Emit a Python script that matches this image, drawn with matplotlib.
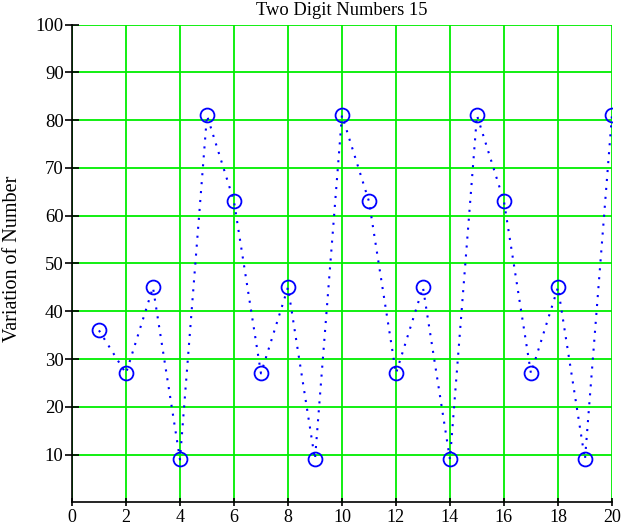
import numpy as np
import matplotlib.pyplot as plt

plt.rcParams['font.family'] = ['Liberation Serif', 'DejaVu Serif']

x = np.arange(1, 21)
values = [36, 27, 45, 9, 81, 63, 27, 45, 9, 81,
          63, 27, 45, 9, 81, 63, 27, 45, 9, 81]
xticks = np.arange(0, 21, 2)
yticks = np.arange(10, 101, 10)

fig = plt.figure(figsize=(6.27, 5.25), dpi=100)
ax = fig.add_axes([0.1148, 0.0429, 0.8612, 0.9104])

ax.plot(x, values, color='blue', linestyle=(0, (1, 3.3)), linewidth=1.5,
        marker='o', markersize=10, markerfacecolor='none',
        markeredgecolor='blue', markeredgewidth=1.3)

ax.set_xlim(0, 20)
ax.set_ylim(0, 100)
ax.set_xticks(xticks)
ax.set_yticks(yticks)
ax.grid(True, color='#00ee00', linewidth=1.3)
ax.set_axisbelow(True)
for s in ['top', 'right']:
    ax.spines[s].set_visible(False)
for s in ['left', 'bottom']:
    ax.spines[s].set_linewidth(1.2)
ax.tick_params(axis='x', direction='inout', length=6, width=1.2, pad=1.5, labelsize=13)
ax.tick_params(axis='y', direction='inout', length=10, width=1.2, pad=1, labelsize=13.5)

ax.set_title('Two Digit Numbers 15', fontsize=13.3, pad=6.8)
ax.set_ylabel('Variation of Number', fontsize=14.5)
ax.yaxis.set_label_coords(-0.093, 0.51)

fig.savefig('out.png', dpi=100)
